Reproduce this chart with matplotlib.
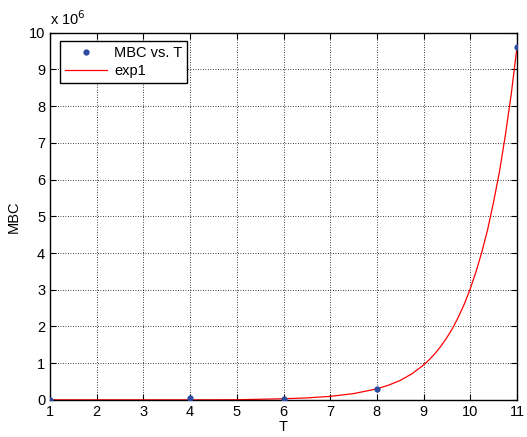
import numpy as np
import matplotlib
matplotlib.use("Agg")
import matplotlib.pyplot as plt

plt.rcParams['font.family'] = ['Liberation Sans', 'DejaVu Sans']

# data points (T, MBC)
t_pts = [1, 4, 6, 8, 11]
mbc_pts = [2000, 40000, 25000, 300000, 9600000]

# exp1 fit curve
t_fit = [1, 2, 3, 4, 5, 6, 6.5, 7, 7.5, 8, 8.25, 8.5, 8.75, 9, 9.125, 9.25,
         9.375, 9.5, 9.625, 9.75, 9.875, 10, 10.125, 10.25, 10.375, 10.5,
         10.625, 10.75, 10.875, 11]
mbc_fit = [0, 0, 0, 0, 3000, 30000, 53000, 95000, 170000, 300000, 400000,
           530000, 710000, 950000, 1100000, 1270000, 1470000, 1700000,
           1960000, 2270000, 2620000, 3030000, 3500000, 4040000, 4660000,
           5400000, 6220000, 7200000, 8310000, 9600000]

fig = plt.figure(figsize=(5.27, 4.37), dpi=100)
ax = fig.add_axes([0.095, 0.085, 0.886, 0.84])

ax.plot(t_pts, mbc_pts, 'o', color='#2b4ba0', markersize=3.5, label='MBC vs. T', zorder=3)
ax.plot(t_fit, mbc_fit, '-', color='#ff0000', lw=0.9, label='exp1')

ax.set_xlim(1, 11)
ax.set_ylim(0, 10e6)
ax.set_xticks(range(1, 12))
ax.set_yticks(np.arange(0, 11) * 1e6)
ax.set_yticklabels([str(i) for i in range(11)])
ax.tick_params(direction='in', top=True, right=True, labelsize=10.5, length=4, width=0.8)
ax.grid(True, color='black', linestyle=(0, (1, 2)), linewidth=0.6)
for s in ax.spines.values():
    s.set_linewidth(1.0)

ax.set_xlabel('T', fontsize=10.5, labelpad=1)
ax.set_ylabel('MBC', fontsize=10.5, labelpad=6)
ax.text(0.0, 1.012, r'x 10$^{6}$', transform=ax.transAxes, fontsize=10.5, ha='left', va='bottom')

leg = ax.legend(loc='upper left', bbox_to_anchor=(0.012, 0.99), fontsize=10.5,
                fancybox=False, edgecolor='black', framealpha=1, borderpad=0.35,
                handlelength=2.9, labelspacing=0.3, borderaxespad=0.3,
                handletextpad=0.45)
leg.get_frame().set_linewidth(1.0)

fig.savefig('out.png', dpi=100)
